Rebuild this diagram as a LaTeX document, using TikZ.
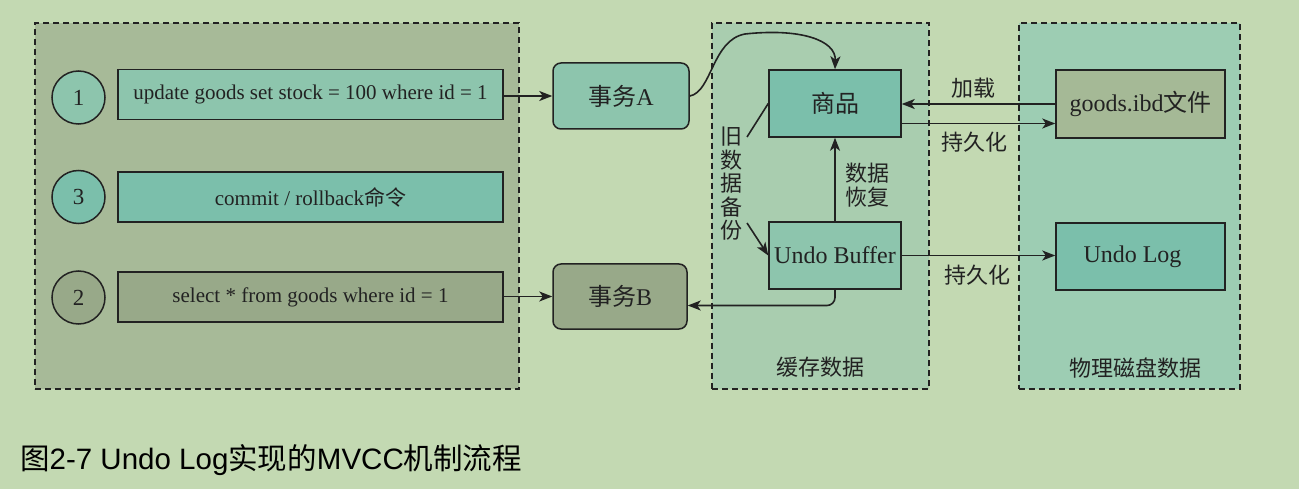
\documentclass[tikz,border=0pt]{standalone}
\usepackage{fontspec}
\setmainfont{Liberation Serif}
\newfontfamily\cjk{Noto Sans CJK SC}
\newfontfamily\capfont{Liberation Sans}
\usetikzlibrary{arrows.meta}
\definecolor{bg}{HTML}{C3D9B2}
\definecolor{leftp}{HTML}{A7BA98}
\definecolor{midp}{HTML}{A9CDAF}
\definecolor{rightp}{HTML}{9DCDB3}
\definecolor{tealA}{HTML}{8DC5AD}
\definecolor{tealB}{HTML}{7BBFAB}
\definecolor{greyg}{HTML}{98A989}
\definecolor{olive}{HTML}{A5B996}
\definecolor{ink}{HTML}{222222}
\newcommand\fsrow{\fontsize{21pt}{24pt}\selectfont}
\newcommand\fsbig{\fontsize{24pt}{26pt}\selectfont}
\newcommand\fszh{\fontsize{22pt}{23.5pt}\selectfont\cjk}
\tikzset{
  panel/.style={draw=ink, dash pattern=on 6pt off 4pt, line width=1.3pt, inner sep=0pt},
  box/.style={draw=ink, line width=1.5pt, rectangle, inner sep=0pt, text=ink},
  rowbox/.style={box, minimum width=385pt, minimum height=50pt, font=\fsrow},
  bigbox/.style={box, font=\fsbig},
  circ/.style={circle, draw=ink, line width=1.5pt, minimum size=53pt, inner sep=0pt, text=ink, font=\fontsize{23pt}{25pt}\selectfont},
  arr/.style={-{Stealth[length=13pt,width=10pt,inset=3.5pt]}, line width=1.6pt, draw=ink},
  ln/.style={line width=1.6pt, draw=ink},
  zh/.style={text=ink, font=\fszh, inner sep=0pt}
}
\begin{document}
\begin{tikzpicture}[x=1pt,y=-1pt]
\useasboundingbox (0,0) rectangle (1299,489);
\fill[bg] (0,0) rectangle (1299,489);
% panels
\node[panel, fill=leftp, minimum width=484pt, minimum height=366pt] (lp) at (277,206) {};
\node[panel, fill=midp, minimum width=217pt, minimum height=366pt] (mp) at (820.5,206) {};
\node[panel, fill=rightp, minimum width=221pt, minimum height=366pt] (rp) at (1129.5,206) {};
% left rows
\node[circ, fill=tealA] (c1) at (78.5,97.5) {1};
\node[circ, fill=tealB] (c3) at (78.5,197) {3};
\node[circ, fill=greyg] (c2) at (78.5,297.5) {2};
\node[rowbox, fill=tealA] (r1) at (310.5,94.5) {update goods set stock = 100 where id = 1};
\node[rowbox, fill=tealB] (r3) at (310.5,197) {commit / rollback{\cjk 命令}};
\node[rowbox, fill=greyg] (r2) at (310.5,297) {select * from goods where id = 1};
% transactions
\node[bigbox, fill=tealA, rounded corners=8pt, minimum width=136pt, minimum height=66pt] (A) at (621,96) {{\cjk 事务}A};
\node[bigbox, fill=greyg, rounded corners=8pt, minimum width=134pt, minimum height=65pt] (B) at (620,296.5) {{\cjk 事务}B};
% cache
\node[bigbox, fill=tealB, minimum width=132pt, minimum height=67pt] (sp) at (835,103.5) {\cjk 商品};
\node[bigbox, fill=tealA, minimum width=132pt, minimum height=67pt] (ub) at (835,255.5) {Undo Buffer};
% disk
\node[bigbox, fill=olive, minimum width=169pt, minimum height=68pt] (gi) at (1140.5,104) {goods.ibd{\cjk 文件}};
\node[bigbox, fill=tealB, minimum width=169pt, minimum height=67pt] (ul) at (1140.5,256.5) {\hspace*{-16pt}Undo Log};
% connectors
\draw[arr] (A.west -| r1.east) -- (A.west);
\draw[arr] (B.west -| r2.east) -- (B.west);
\draw[arr] (A.east) .. controls (712,92) and (712,40) .. (745,34) .. controls (800,28) and (836,40) .. (sp.north);
\coordinate (o1) at (747,137);
\coordinate (o2) at (747,223);
\draw[ln] (sp.west) -- (o1);
\node[zh, align=center] (old) at (731,184) {旧\\数\\据\\备\\份};
\draw[arr] (o2) -- (ub.west);
\draw[arr] (ub.north) -- (sp.south);
\node[zh, align=center] (rec) at (867,185) {数据\\恢复};
\draw[arr, rounded corners=8pt] (ub.south) |- ([yshift=-9pt]B.east);
\draw[arr] (gi.west) -- (gi.west -| sp.east);
\draw[arr] ([yshift=-20pt]sp.east) -- ([yshift=-20pt]sp.east -| gi.west);
\draw[arr] (ub.east) -- (ub.east -| ul.west);
\node[zh] (l1) at (973,88) {加载};
\node[zh] (l2) at (974,142) {持久化};
\node[zh] (l3) at (977,275) {持久化};
\node[zh] (t1) at (820,367) {缓存数据};
\node[zh] (t2) at (1135,368) {物理磁盘数据};
% caption
\node[anchor=west, inner sep=0pt, text=black, font=\fontsize{29.5pt}{31pt}\selectfont\capfont] (cap) at (20,460) {{\cjk 图}2-7 Undo Log{\cjk 实现的}MVCC{\cjk 机制流程}};
\end{tikzpicture}
\end{document}
